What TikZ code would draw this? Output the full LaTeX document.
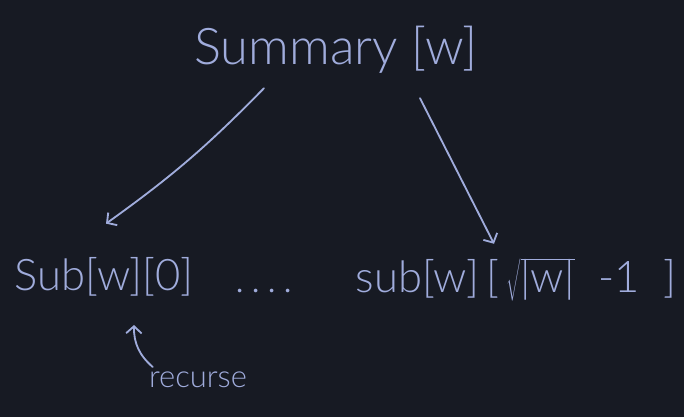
\documentclass[tikz,border=0pt]{standalone}
\usepackage{fontspec}
\setmainfont{Lato}[UprightFont=* Light]
\usepackage{tikz}
\usetikzlibrary{positioning}
\usetikzlibrary{arrows.meta}
\definecolor{board}{RGB}{23,26,35}
\definecolor{chalk}{RGB}{160,172,220}
\tikzstyle{word} = [text=chalk, inner sep=0pt, anchor=base]
\tikzstyle{pen} = [draw=chalk, line width=1.3pt, line cap=round,
    -{Straight Barb[length=5pt,width=11pt,line width=1.3pt]}]

\begin{document}
\begin{tikzpicture}
        % Background
    \fill [board] (0,0) rectangle (17.1,10.425);
    \useasboundingbox (0,0) rectangle (17.1,10.425);
        % Nodes
    \node [word, font=\fontsize{36}{40}\selectfont] (summary) at (8.4,8.8) {Summary [w]};
    \node [word, font=\fontsize{31}{34}\selectfont] (sub0) at (2.6,3.15) {Sub[w][0]};
    \node [word, font=\fontsize{28}{32}\selectfont] (dots) at (6.6,3.1) {.\,.\,.\,.};
    \node [word, font=\fontsize{31}{34}\selectfont] (sublast) at (12.9,3.1) {sub[w]\,[\,$\sqrt{\mbox{|w|}}$\ \ -1\ \ ]};
    \node [word, font=\fontsize{22}{26}\selectfont] (recurse) at (4.95,0.75) {recurse};
        % Edges
    \draw [pen] ([xshift=-1.8cm,yshift=-0.35cm]summary.south) to [bend left=5] ([xshift=0.05cm,yshift=0.85cm]sub0.north);
    \draw [pen] ([xshift=2.1cm,yshift=-0.6cm]summary.south) -- ([xshift=-0.55cm,yshift=0.35cm]sublast.north);
    \draw [pen] ([xshift=0.1cm,yshift=0.1cm]recurse.north west) to [bend left=25] ([xshift=0.75cm,yshift=-0.7cm]sub0.south);
\end{tikzpicture}
\end{document}
